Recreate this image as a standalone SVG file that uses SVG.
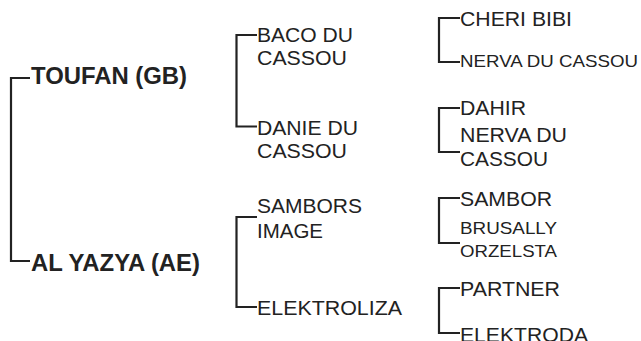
<svg xmlns="http://www.w3.org/2000/svg" width="641" height="341" viewBox="0 0 641 341">
<style>
.c{fill:none;stroke:#222;stroke-width:2.2}
.b{font-family:"Liberation Sans",Arial,sans-serif;font-weight:bold;font-size:23px;fill:#222}
.r{font-family:"Liberation Sans",Arial,sans-serif;font-size:20.5px;fill:#222}
.s{font-family:"Liberation Sans",Arial,sans-serif;font-size:16.5px;fill:#222}
</style>
<rect width="641" height="341" fill="#fff"/>
<g id="connectors">
<path class="c" d="M30,78 H11 V261 H30"/>
<path class="c" d="M257,35 H236.5 V126.5 H257"/>
<path class="c" d="M257,217 H236.5 V307 H257"/>
<path class="c" d="M460,18 H439 V62 H460"/>
<path class="c" d="M460,108 H439 V152 H460"/>
<path class="c" d="M460,198 H439 V243 H460"/>
<path class="c" d="M460,288 H439 V333 H460"/>
</g>
<g id="n-toufan"><text class="b" x="31" y="84" textLength="156" lengthAdjust="spacingAndGlyphs">TOUFAN (GB)</text></g>
<g id="n-alyazya"><text class="b" x="31" y="271" textLength="169" lengthAdjust="spacingAndGlyphs">AL YAZYA (AE)</text></g>
<g id="n-baco"><text class="r" x="257" y="42" textLength="96" lengthAdjust="spacingAndGlyphs">BACO DU</text><text class="r" x="257" y="65" textLength="90" lengthAdjust="spacingAndGlyphs">CASSOU</text></g>
<g id="n-danie"><text class="r" x="257" y="135" textLength="101" lengthAdjust="spacingAndGlyphs">DANIE DU</text><text class="r" x="257" y="158" textLength="90" lengthAdjust="spacingAndGlyphs">CASSOU</text></g>
<g id="n-sambors"><text class="r" x="257" y="213" textLength="105" lengthAdjust="spacingAndGlyphs">SAMBORS</text><text class="r" x="257" y="238" textLength="66" lengthAdjust="spacingAndGlyphs">IMAGE</text></g>
<g id="n-elektroliza"><text class="r" x="257" y="315" textLength="145" lengthAdjust="spacingAndGlyphs">ELEKTROLIZA</text></g>
<g id="n-cheri"><text class="r" x="460" y="26" textLength="112" lengthAdjust="spacingAndGlyphs">CHERI BIBI</text></g>
<g id="n-nerva1"><text class="s" x="460" y="67" textLength="178" lengthAdjust="spacingAndGlyphs">NERVA DU CASSOU</text></g>
<g id="n-dahir"><text class="r" x="460" y="115" textLength="66" lengthAdjust="spacingAndGlyphs">DAHIR</text></g>
<g id="n-nerva2"><text class="r" x="460" y="142" textLength="107" lengthAdjust="spacingAndGlyphs">NERVA DU</text><text class="r" x="460" y="166" textLength="88" lengthAdjust="spacingAndGlyphs">CASSOU</text></g>
<g id="n-sambor"><text class="r" x="460" y="206" textLength="92" lengthAdjust="spacingAndGlyphs">SAMBOR</text></g>
<g id="n-brusally"><text class="s" x="460" y="234" textLength="97" lengthAdjust="spacingAndGlyphs">BRUSALLY</text><text class="s" x="460" y="257" textLength="97" lengthAdjust="spacingAndGlyphs">ORZELSTA</text></g>
<g id="n-partner"><text class="r" x="460" y="296" textLength="100" lengthAdjust="spacingAndGlyphs">PARTNER</text></g>
<g id="n-elektroda"><text class="r" x="460" y="342" textLength="128" lengthAdjust="spacingAndGlyphs">ELEKTRODA</text></g>
</svg>
